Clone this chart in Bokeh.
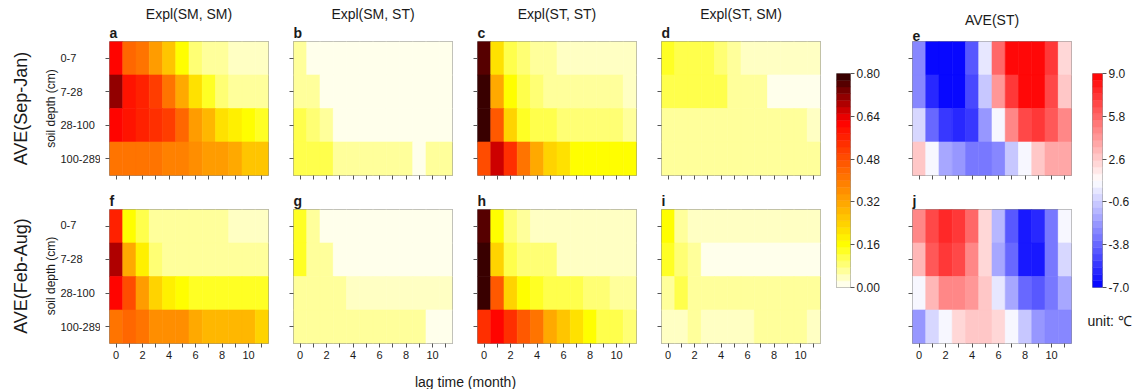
import numpy as np
from bokeh.plotting import figure
from bokeh.layouts import row, column
from bokeh.models import (LinearColorMapper, FixedTicker, Title, ColumnDataSource,
                          PrintfTickFormatter, Range1d)
from bokeh.core.properties import value
from bokeh.embed import file_html
from bokeh.resources import INLINE

# ---------------- data ----------------
lags = list(range(12))
lag_tick_labels = ["0", "", "2", "", "4", "", "6", "", "8", "", "10", ""]
depths = ["0-7", "7-28", "28-100", "100-289"]          # top -> bottom
row_titles = ["AVE(Sep-Jan)", "AVE(Feb-Aug)"]
col_titles = ["Expl(SM, SM)", "Expl(SM, ST)", "Expl(ST, ST)", "Expl(ST, SM)", "AVE(ST)"]
letters_top = ["a", "b", "c", "d", "e"]
letters_bot = ["f", "g", "h", "i", "j"]
expl_ticks = [0.0, 0.16, 0.32, 0.48, 0.64, 0.80]
temp_ticks = [-7.0, -3.8, -0.6, 2.6, 5.8, 9.0]
unit_label = "unit: ℃"
xlabel = "lag time (month)"
ylabel = "soil depth (cm)"

expl_sm_sm_sep = [
    [0.60, 0.44, 0.40, 0.33, 0.27, 0.17, 0.09, 0.06, 0.05, 0.03, 0.03, 0.03],
    [0.70, 0.58, 0.56, 0.52, 0.42, 0.30, 0.20, 0.13, 0.08, 0.06, 0.05, 0.05],
    [0.60, 0.58, 0.56, 0.54, 0.50, 0.43, 0.34, 0.29, 0.22, 0.18, 0.15, 0.14],
    [0.40, 0.42, 0.42, 0.41, 0.39, 0.38, 0.37, 0.34, 0.33, 0.31, 0.26, 0.25],
]
expl_sm_st_sep = [
    [0.05, 0.02, 0.02, 0.02, 0.02, 0.02, 0.02, 0.02, 0.02, 0.02, 0.02, 0.02],
    [0.07, 0.05, 0.02, 0.02, 0.02, 0.02, 0.02, 0.02, 0.02, 0.02, 0.02, 0.02],
    [0.10, 0.08, 0.06, 0.02, 0.02, 0.02, 0.02, 0.02, 0.02, 0.02, 0.02, 0.02],
    [0.10, 0.12, 0.12, 0.07, 0.07, 0.05, 0.05, 0.05, 0.05, 0.02, 0.05, 0.05],
]
expl_st_st_sep = [
    [0.75, 0.20, 0.12, 0.08, 0.07, 0.06, 0.03, 0.03, 0.03, 0.03, 0.03, 0.03],
    [0.79, 0.30, 0.15, 0.10, 0.09, 0.06, 0.06, 0.06, 0.06, 0.06, 0.06, 0.04],
    [0.79, 0.45, 0.24, 0.14, 0.11, 0.10, 0.08, 0.09, 0.09, 0.09, 0.09, 0.07],
    [0.48, 0.66, 0.54, 0.40, 0.31, 0.24, 0.20, 0.17, 0.16, 0.16, 0.16, 0.16],
]
expl_st_sm_sep = [
    [0.13, 0.10, 0.10, 0.10, 0.08, 0.06, 0.03, 0.03, 0.03, 0.03, 0.03, 0.03],
    [0.10, 0.10, 0.10, 0.10, 0.10, 0.07, 0.05, 0.05, 0.02, 0.02, 0.02, 0.02],
    [0.05, 0.05, 0.07, 0.07, 0.07, 0.07, 0.07, 0.05, 0.05, 0.05, 0.05, 0.03],
    [0.05, 0.05, 0.05, 0.05, 0.07, 0.07, 0.05, 0.05, 0.05, 0.05, 0.05, 0.05],
]
ave_st_sep = [
    [-3.0, -7.0, -7.0, -7.0, -4.5, 0.0, 5.5, 8.5, 9.0, 9.0, 7.0, 2.0],
    [-3.0, -6.0, -7.0, -7.0, -5.0, -1.0, 4.0, 7.0, 9.0, 9.0, 6.8, 2.5],
    [-0.5, -4.0, -5.5, -5.8, -5.5, -2.5, 0.6, 4.5, 6.5, 7.0, 6.0, 4.5],
    [2.5, 0.5, -2.0, -2.5, -3.5, -3.3, -3.0, -1.0, 0.8, 2.5, 3.8, 3.8],
]
expl_sm_sm_feb = [
    [0.56, 0.16, 0.10, 0.05, 0.05, 0.05, 0.05, 0.05, 0.05, 0.03, 0.03, 0.03],
    [0.68, 0.32, 0.18, 0.09, 0.06, 0.06, 0.06, 0.06, 0.06, 0.05, 0.05, 0.05],
    [0.60, 0.48, 0.33, 0.24, 0.19, 0.17, 0.14, 0.14, 0.14, 0.14, 0.14, 0.14],
    [0.40, 0.44, 0.41, 0.36, 0.35, 0.35, 0.31, 0.28, 0.28, 0.28, 0.28, 0.23],
]
expl_sm_st_feb = [
    [0.14, 0.06, 0.02, 0.02, 0.02, 0.02, 0.02, 0.02, 0.02, 0.02, 0.02, 0.02],
    [0.13, 0.07, 0.05, 0.02, 0.02, 0.02, 0.02, 0.02, 0.02, 0.02, 0.02, 0.02],
    [0.07, 0.07, 0.05, 0.05, 0.03, 0.03, 0.03, 0.03, 0.03, 0.03, 0.03, 0.03],
    [0.07, 0.07, 0.07, 0.07, 0.05, 0.05, 0.05, 0.05, 0.05, 0.05, 0.02, 0.02],
]
expl_st_st_feb = [
    [0.77, 0.15, 0.09, 0.07, 0.03, 0.03, 0.03, 0.03, 0.03, 0.03, 0.03, 0.03],
    [0.79, 0.24, 0.11, 0.08, 0.08, 0.08, 0.04, 0.04, 0.04, 0.04, 0.04, 0.04],
    [0.79, 0.45, 0.23, 0.17, 0.13, 0.12, 0.10, 0.10, 0.08, 0.08, 0.05, 0.05],
    [0.54, 0.60, 0.54, 0.46, 0.40, 0.31, 0.25, 0.20, 0.15, 0.12, 0.10, 0.09],
]
expl_st_sm_feb = [
    [0.15, 0.06, 0.03, 0.03, 0.03, 0.03, 0.03, 0.03, 0.03, 0.03, 0.03, 0.03],
    [0.14, 0.08, 0.06, 0.02, 0.02, 0.02, 0.02, 0.02, 0.02, 0.02, 0.02, 0.02],
    [0.07, 0.11, 0.05, 0.05, 0.05, 0.05, 0.05, 0.05, 0.05, 0.05, 0.05, 0.05],
    [0.04, 0.04, 0.06, 0.04, 0.04, 0.04, 0.04, 0.07, 0.07, 0.07, 0.07, 0.04],
]
ave_st_feb = [
    [4.5, 6.8, 7.5, 7.0, 5.5, 2.0, -1.5, -4.5, -6.3, -5.8, -3.5, 0.6],
    [3.2, 6.0, 7.3, 6.6, 4.8, 2.0, -1.8, -4.0, -6.3, -6.3, -3.5, -0.5],
    [0.6, 3.2, 4.8, 4.8, 4.3, 2.5, 0.0, -2.0, -4.0, -4.5, -3.5, -2.0],
    [-2.3, -0.5, 0.6, 2.0, 2.5, 2.5, 2.0, 0.6, -1.0, -2.5, -2.8, -2.8],
]

# ---------------- styling ----------------
FONT = "Liberation Sans"
TXT = "#1a1a1a"


def ramp(anchors, n):
    pos = [a[0] for a in anchors]
    cols = [tuple(int(a[1][i:i + 2], 16) for i in (1, 3, 5)) for a in anchors]
    out = []
    for k in range(n):
        t = (k + 0.5) / n
        rgb = [int(round(np.interp(t, pos, [c[j] for c in cols]))) for j in range(3)]
        out.append("#%02x%02x%02x" % tuple(rgb))
    return out


heat_pal = ramp([(0, "#ffffff"), (0.2, "#ffff00"), (0.4, "#ffa500"), (0.6, "#ff5000"),
                 (0.775, "#ff0000"), (1.0, "#2a0000")], 32)
bwr_pal = ramp([(0, "#0000ff"), (0.5, "#ffffff"), (1.0, "#ff0000")], 32)
heat_map = LinearColorMapper(palette=heat_pal, low=expl_ticks[0], high=expl_ticks[-1])
bwr_map = LinearColorMapper(palette=bwr_pal, low=temp_ticks[0], high=temp_ticks[-1])

H1, H2 = 190, 175
TOP1, BOT1 = 41, 15
TOP2, BOT2 = 18, 22
PW, PL, PR = 184, 9, 16


def style_axes(p, show_x_labels):
    for ax in (p.xaxis[0], p.yaxis[0]):
        ax.axis_line_color = None
        ax.major_tick_line_color = "#555555"
        ax.major_tick_out = 4
        ax.major_tick_in = 0
        ax.minor_tick_line_color = None
        ax.major_label_text_font = FONT
        ax.major_label_text_font_size = "11px"
        ax.major_label_text_color = TXT
    p.xaxis.ticker = FixedTicker(ticks=lags)
    if show_x_labels:
        p.xaxis.major_label_overrides = {l: s for l, s in zip(lags, lag_tick_labels)}
        p.xaxis.major_label_standoff = 3
    else:
        p.xaxis.major_label_overrides = {l: "" for l in lags}
        p.xaxis.major_label_text_font_size = "0px"
        p.xaxis.major_label_standoff = 0
    p.yaxis.ticker = FixedTicker(ticks=[0, 1, 2, 3])
    p.yaxis.major_label_overrides = {i: "" for i in range(4)}
    p.yaxis.major_label_text_font_size = "0px"
    p.yaxis.major_label_standoff = 0


def panel(vals, mapper, letter, heading, top):
    xs, ys, vs = [], [], []
    for r, rv in enumerate(vals):
        for c, v in enumerate(rv):
            xs.append(lags[c])
            ys.append(len(depths) - 1 - r)
            vs.append(v)
    src = ColumnDataSource(dict(x=xs, y=ys, v=vs))
    p = figure(width=PW, height=H1 if top else H2,
               x_range=Range1d(-0.5, 11.5), y_range=Range1d(-0.5, 3.5),
               output_backend="svg", toolbar_location=None, title_location=None,
               min_border_left=PL, min_border_right=PR,
               min_border_top=TOP1 if top else TOP2,
               min_border_bottom=BOT1 if top else BOT2)
    p.rect("x", "y", 1, 1, source=src,
           fill_color={"field": "v", "transform": mapper},
           line_color={"field": "v", "transform": mapper}, line_width=0.6)
    p.grid.visible = False
    p.outline_line_color = "#8c8c8c"
    p.outline_line_width = 1
    p.background_fill_color = "white"
    p.border_fill_color = "white"
    style_axes(p, not top)
    p.add_layout(Title(text=letter, align="left", text_font=FONT, text_font_size="14px",
                       text_font_style="bold", text_color=TXT, standoff=1), "above")
    if heading:
        p.add_layout(Title(text=heading, align="center", text_font=FONT, text_font_size="14px",
                           text_font_style="normal", text_color=TXT, standoff=2), "above")
    return p


def label_fig(title, top):
    p = figure(width=100, height=H1 if top else H2,
               x_range=Range1d(0, 100), y_range=Range1d(-0.5, 3.5),
               x_axis_type=None, y_axis_type=None,
               output_backend="svg", toolbar_location=None, title_location=None,
               min_border_left=0, min_border_right=0,
               min_border_top=TOP1 if top else TOP2,
               min_border_bottom=BOT1 if top else BOT2)
    p.grid.visible = False
    p.outline_line_color = None
    p.text(x=[60] * 4, y=[3, 2, 1, 0], text=depths, text_align="left", text_baseline="middle",
           text_font=value(FONT), text_font_size="11px", text_color=TXT)
    p.text(x=[50], y=[1.5], text=[ylabel], angle=np.pi / 2, text_align="center",
           text_baseline="middle", text_font=value(FONT), text_font_size="12px", text_color=TXT)
    p.text(x=[20], y=[1.5], text=[title], angle=np.pi / 2, text_align="center",
           text_baseline="middle", text_font=value(FONT), text_font_size="18px", text_color=TXT)
    return p


def cbar(pal, low, high, ticks, fmt, width, left, right):
    n = len(pal)
    step = (high - low) / n
    edges = [low + i * step for i in range(n + 1)]
    p = figure(width=width, height=H1 + H2,
               x_range=Range1d(0, 1), y_range=Range1d(low, high),
               x_axis_type=None, y_axis_location="right",
               output_backend="svg", toolbar_location=None, title_location=None,
               min_border_left=left, min_border_right=right,
               min_border_top=73, min_border_bottom=H1 + H2 - 287)
    p.quad(left=0, right=1, bottom=edges[:-1], top=edges[1:], fill_color=pal, line_color=pal,
           line_width=0.5)
    p.grid.visible = False
    p.outline_line_color = "#9a9a9a"
    ax = p.yaxis[0]
    ax.ticker = FixedTicker(ticks=ticks)
    ax.formatter = PrintfTickFormatter(format=fmt)
    ax.axis_line_color = None
    ax.major_tick_line_color = "#555555"
    ax.major_tick_out = 4
    ax.major_tick_in = 0
    ax.minor_tick_line_color = None
    ax.major_label_text_font = FONT
    ax.major_label_text_font_size = "12px"
    ax.major_label_text_color = TXT
    ax.major_label_standoff = 2
    return p


sep_vals = [expl_sm_sm_sep, expl_sm_st_sep, expl_st_st_sep, expl_st_sm_sep, ave_st_sep]
feb_vals = [expl_sm_sm_feb, expl_sm_st_feb, expl_st_st_feb, expl_st_sm_feb, ave_st_feb]
maps = [heat_map] * 4 + [bwr_map]

top_figs = [panel(v, m, l, t, True) for v, m, l, t in zip(sep_vals, maps, letters_top, col_titles)]
bot_figs = [panel(v, m, l, None, False) for v, m, l in zip(feb_vals, maps, letters_bot)]

cb1 = cbar(heat_pal, expl_ticks[0], expl_ticks[-1], expl_ticks, "%.2f", 67, 0, 53)
cb2 = cbar(bwr_pal, temp_ticks[0], temp_ticks[-1], temp_ticks, "%.1f", 45, 5, 29)
cb2.add_layout(Title(text=unit_label, align="left", offset=-5, text_font=FONT,
                     text_font_size="14px", text_font_style="normal", text_color=TXT,
                     standoff=46), "below")

xl = figure(width=1132, height=24, x_range=Range1d(0, 1132), y_range=Range1d(0, 24),
            x_axis_type=None, y_axis_type=None, output_backend="svg",
            toolbar_location=None, title_location=None,
            min_border_left=0, min_border_right=0, min_border_top=0, min_border_bottom=0)
xl.grid.visible = False
xl.outline_line_color = None
xl.text(x=[465], y=[8], text=[xlabel], text_align="center", text_baseline="middle",
        text_font=value(FONT), text_font_size="14px", text_color=TXT)

main = row(
    column(label_fig(row_titles[0], True), label_fig(row_titles[1], False)),
    *[column(t, b) for t, b in zip(top_figs[:4], bot_figs[:4])],
    cb1,
    column(top_figs[4], bot_figs[4]),
    cb2,
)
layout = column(main, xl)

open("out.html", "w").write(file_html(layout, INLINE))
